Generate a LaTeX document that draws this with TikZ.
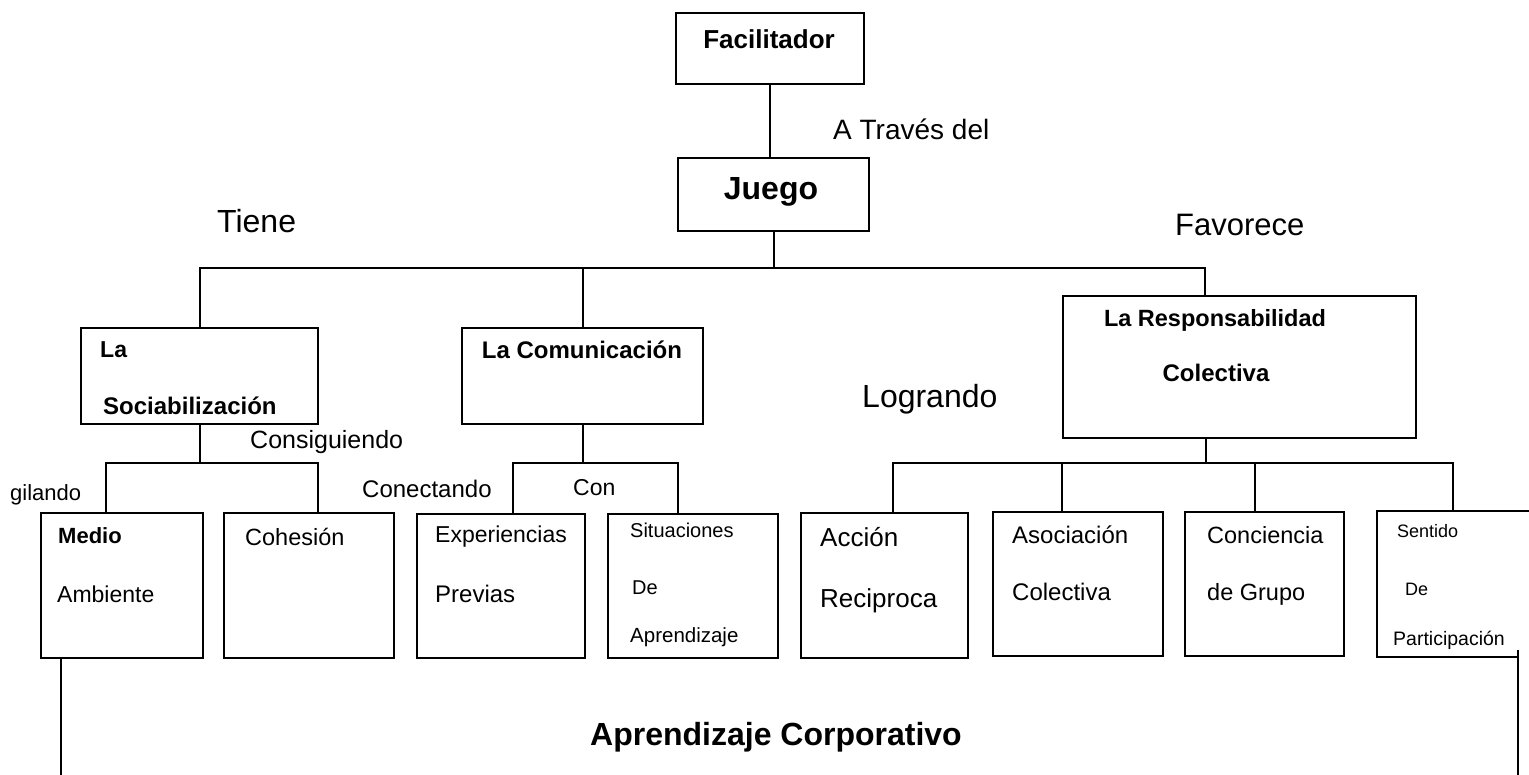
\documentclass[tikz,border=0pt]{standalone}
\usepackage{fontspec}
\setmainfont{Liberation Sans}
\newcommand\fsz[1]{\fontsize{#1}{#1}\selectfont}
\tikzset{
  box/.style={draw, line width=2.4pt, inner sep=0pt, anchor=north west},
  conn/.style={line width=2.2pt},
  thinconn/.style={line width=1.5pt},
  lbl/.style={inner sep=0pt, anchor=base west},
  clbl/.style={inner sep=0pt, anchor=base},
}
\begin{document}
\begin{tikzpicture}[x=1pt,y=-1pt]
\useasboundingbox (0,0) rectangle (1529,775);
% boxes
\node[box, minimum width=188pt, minimum height=71pt] (fac) at (675,12) {};
\node[box, minimum width=191pt, minimum height=73pt] (jue) at (677,157) {};
\node[box, minimum width=237pt, minimum height=96pt] (soc) at (80,327) {};
\node[box, minimum width=241pt, minimum height=96pt] (com) at (461,327) {};
\node[box, minimum width=353pt, minimum height=142pt] (resp) at (1062,295) {};
\node[box, minimum width=162pt, minimum height=145pt] (med) at (40,512) {};
\node[box, minimum width=170pt, minimum height=145pt] (coh) at (223,512) {};
\node[box, minimum width=168pt, minimum height=144pt] (exp) at (416,513) {};
\node[box, minimum width=170pt, minimum height=144pt] (sit) at (607,513) {};
\node[box, minimum width=167pt, minimum height=145pt] (acc) at (800,512) {};
\node[box, minimum width=170pt, minimum height=144pt] (aso) at (992,511) {};
\node[box, minimum width=159pt, minimum height=144pt] (cgr) at (1184,511) {};
% open box (Sentido de Participacion)
\coordinate (sentw) at (1377,511);
\draw[line width=2.4pt] (1529,511) -- (sentw) -- (1377,657) -- (1517,657);

% connectors
\draw[thinconn] (fac.south) -- (fac.south |- jue.north);
\coordinate (jb) at (772.5,268);
\draw[conn] (jue.south) -- (jue.south |- jb);
\draw[conn] (soc.north) |- (jb);
\draw[conn] (com.north) |- (jb);
\coordinate (rtop) at (1205,295);
\draw[conn] (jb) -| (rtop);

\coordinate (sb) at (198.5,463);
\coordinate (medtop) at (106,512);
\coordinate (cohtop) at (318,512);
\draw[conn] (soc.south) -- (soc.south |- sb);
\draw[conn] (medtop) |- (sb) -| (cohtop);

\coordinate (cb) at (581.5,463);
\coordinate (exptop) at (513,513);
\coordinate (sittop) at (678,513);
\draw[conn] (com.south) -- (com.south |- cb);
\draw[conn] (exptop) |- (cb) -| (sittop);

\coordinate (rbot) at (1206,437);
\coordinate (rb) at (1206,463);
\coordinate (acctop) at (893,512);
\coordinate (asotop) at (1062,511);
\coordinate (cgrtop) at (1255,511);
\coordinate (sentop) at (1453,511);
\draw[conn] (rbot) -- (rb);
\draw[conn] (acctop) |- (rb) -| (sentop);
\draw[conn] (asotop) -- (asotop |- rb);
\draw[conn] (cgrtop) -- (cgrtop |- rb);

\coordinate (lend) at (61,775);
\draw[conn] (med.south west -| lend) -- (lend);
\coordinate (rstart) at (1518,650);
\coordinate (rend) at (1518,775);
\draw[conn] (rstart) -- (rend);

% labels
\node[clbl, font={\fsz{26}\bfseries}] (tfac) at (769,49) {Facilitador};
\node[lbl, font=\fsz{28}] (tatr) at (833,140) {A Través del};
\node[clbl, font={\fsz{32}\bfseries}] (tjue) at (771,200) {Juego};
\node[lbl, font=\fsz{32}] (ttie) at (217,233) {Tiene};
\node[lbl, font=\fsz{31}] (tfav) at (1175,236) {Favorece};
\node[lbl, font={\fsz{23}\bfseries}] (tla) at (100,358) {La};
\node[lbl, font={\fsz{24}\bfseries}] (tsoc) at (103,415) {Sociabilización};
\node[clbl, font={\fsz{24}\bfseries}] (tcom) at (582,359) {La Comunicación};
\node[lbl, font=\fsz{25}] (tcons) at (250,449) {Consiguiendo};
\node[lbl, font=\fsz{22}] (tvig) at (10,500) {gilando};
\node[lbl, font=\fsz{24}] (tconec) at (362,497) {Conectando};
\node[lbl, font=\fsz{23}] (tcon) at (573,495) {Con};
\node[lbl, font=\fsz{32}] (tlog) at (862,408) {Logrando};
\node[clbl, font={\fsz{23.5}\bfseries}] (tresp) at (1215,327) {La Responsabilidad};
\node[clbl, font={\fsz{24}\bfseries}] (tcol) at (1216,382) {Colectiva};
\node[lbl, font={\fsz{22}\bfseries}] (tmed) at (58,543) {Medio};
\node[lbl, font=\fsz{23}] (tamb) at (57,602) {Ambiente};
\node[lbl, font=\fsz{23.5}] (tcoh) at (245,545) {Cohesión};
\node[lbl, font=\fsz{23}] (texp) at (435,542) {Experiencias};
\node[lbl, font=\fsz{24}] (tprev) at (435,602) {Previas};
\node[lbl, font=\fsz{20}] (tsit) at (630,537) {Situaciones};
\node[lbl, font=\fsz{20}] (tde1) at (632,594) {De};
\node[lbl, font=\fsz{20.5}] (tapr) at (630,642) {Aprendizaje};
\node[lbl, font=\fsz{26}] (tacc) at (820,546) {Acción};
\node[lbl, font=\fsz{26}] (trec) at (820,607) {Reciproca};
\node[lbl, font=\fsz{24}] (taso) at (1012,543) {Asociación};
\node[lbl, font=\fsz{24}] (tcol2) at (1012,600) {Colectiva};
\node[lbl, font=\fsz{23.5}] (tcon2) at (1207,543) {Conciencia};
\node[lbl, font=\fsz{23.5}] (tgru) at (1207,600) {de Grupo};
\node[lbl, font=\fsz{18}] (tsen) at (1397,537) {Sentido};
\node[lbl, font=\fsz{18}] (tde2) at (1405,595) {De};
\node[lbl, font=\fsz{19.5}] (tpar) at (1393,645) {Participación};
\node[clbl, font={\fsz{32}\bfseries}] (tac) at (776,745) {Aprendizaje Corporativo};
\end{tikzpicture}
\end{document}
